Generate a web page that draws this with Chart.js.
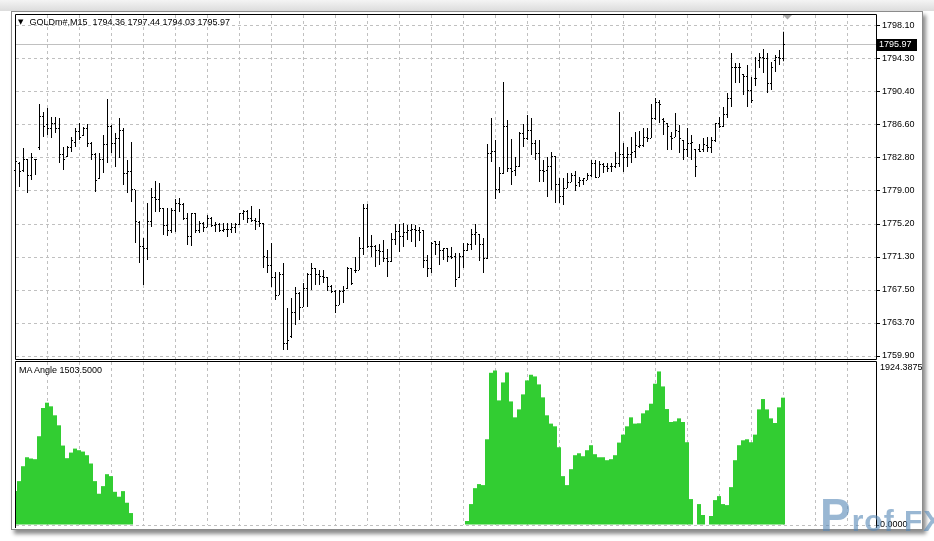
<!DOCTYPE html>
<html>
<head>
<meta charset="utf-8">
<script src="https://cdn.jsdelivr.net/npm/chart.js@4.4.0/dist/chart.umd.min.js"></script>
<style>
  html, body { margin: 0; padding: 0; background: #fff; }
  body { width: 934px; height: 541px; position: relative; overflow: hidden; font-family: "Liberation Sans", Arial, sans-serif; }
  #topband { position: absolute; left: 0; top: 0; width: 934px; height: 11px; background: linear-gradient(#f4f4f4, #dcdcdc); }
  #frame { position: absolute; left: 11px; top: 11px; width: 912px; height: 519px; box-sizing: border-box;
           border: 1px solid #8c8c8c; background: #fff; box-shadow: 3px 4px 4px rgba(0,0,0,0.45); }
  canvas { position: absolute; left: 0; }
  #priceCanvas { top: 0; }
  #maCanvas { top: 360px; }
  .lbl { position: absolute; font-size: 9px; line-height: 9px; color: #000; white-space: pre; }
  #title { left: 18px; top: 18px; }
  #title .tri { font-family: "DejaVu Sans"; font-size: 7px; margin-right: 6px; position: relative; top: -1px; }
  #maTitle { left: 19px; top: 366px; }
  #wm { position: absolute; left: 820px; top: 488px; font: bold 30px "Liberation Sans", sans-serif;
        color: rgba(85,135,182,0.6); letter-spacing: 1px; white-space: pre; }
  #wm .p { font-size: 46px; }
</style>
</head>
<body>
<div id="topband"></div>
<div id="frame"></div>
<canvas id="priceCanvas" width="934" height="361"></canvas>
<canvas id="maCanvas" width="934" height="172"></canvas>
<div id="title" class="lbl"></div>
<div id="maTitle" class="lbl"></div>
<div id="wm"><span class="p">P</span>rof FX</div>
<script>
// GOLDm#, M15 bars, oldest first
const symbol = 'GOLDm#';
const period = 'M15';

const opens = [
  1781.43, 1782.24, 1781.43, 1782.59, 1780.85, 1782.59, 1783.98, 1787.57, 1786.64, 1786.29,
  1786.76, 1786.29, 1783.17, 1782.94, 1783.98, 1784.67, 1785.94, 1785.48, 1786.18, 1784.55,
  1783.17, 1780.50, 1782.59, 1784.33, 1786.52, 1784.45, 1785.13, 1786.06, 1780.97, 1781.20,
  1779.12, 1775.41, 1772.52, 1772.29, 1775.52, 1778.19, 1778.07, 1777.03, 1775.06, 1774.37,
  1776.80, 1777.61, 1777.38, 1775.87, 1773.68, 1776.34, 1774.37, 1775.29, 1774.83, 1775.87,
  1775.06, 1775.18, 1774.37, 1774.49, 1774.60, 1774.72, 1775.18, 1776.34, 1776.57, 1775.76,
  1775.64, 1775.52, 1775.29, 1771.36, 1770.43, 1768.93, 1766.96, 1769.39, 1761.40, 1762.21,
  1764.99, 1767.08, 1765.57, 1767.77, 1769.28, 1770.08, 1769.28, 1769.16, 1769.04, 1767.89,
  1767.42, 1765.80, 1767.42, 1767.66, 1770.08, 1769.85, 1769.85, 1772.40, 1776.92, 1772.52,
  1772.63, 1772.17, 1772.05, 1771.24, 1770.89, 1773.33, 1774.26, 1773.68, 1774.14, 1774.37,
  1774.49, 1774.37, 1774.37, 1771.01, 1770.08, 1773.10, 1772.86, 1772.17, 1772.29, 1771.47,
  1771.47, 1768.93, 1771.47, 1772.17, 1772.75, 1773.91, 1773.91, 1772.86, 1771.24, 1783.29,
  1783.52, 1779.12, 1781.08, 1786.52, 1781.66, 1781.32, 1781.89, 1785.71, 1785.13, 1786.06,
  1784.55, 1783.29, 1781.43, 1781.43, 1781.78, 1782.94, 1779.81, 1778.42, 1779.34, 1780.04,
  1780.85, 1780.04, 1780.27, 1780.27, 1780.85, 1782.13, 1780.62, 1782.01, 1781.89, 1781.78,
  1781.89, 1782.24, 1783.17, 1782.82, 1783.17, 1783.52, 1784.10, 1784.21, 1785.25, 1785.13,
  1787.34, 1789.19, 1787.22, 1786.87, 1785.36, 1785.25, 1785.94, 1784.90, 1783.75, 1784.55,
  1783.86, 1783.75, 1783.75, 1784.21, 1783.98, 1784.79, 1786.76, 1786.41, 1787.80, 1789.65,
  1793.35, 1793.24, 1792.43, 1792.31, 1790.69, 1792.08, 1794.16, 1794.40, 1794.28, 1791.50,
  1794.16, 1794.40, 1794.36
];
const highs = [
  1783.05, 1782.36, 1783.98, 1782.71, 1783.40, 1782.71, 1789.07, 1788.15, 1788.61, 1787.57,
  1787.57, 1787.45, 1784.10, 1784.21, 1785.25, 1786.29, 1786.87, 1786.41, 1786.76, 1784.67,
  1783.40, 1783.40, 1785.48, 1789.65, 1786.64, 1785.71, 1787.45, 1786.29, 1782.59, 1784.67,
  1779.12, 1775.52, 1773.56, 1777.61, 1779.34, 1780.15, 1779.92, 1777.03, 1777.03, 1777.03,
  1778.07, 1778.19, 1777.61, 1776.45, 1776.45, 1776.45, 1775.52, 1775.41, 1776.22, 1775.99,
  1775.41, 1775.29, 1775.29, 1775.29, 1775.29, 1775.29, 1776.45, 1776.80, 1776.80, 1777.26,
  1775.87, 1776.92, 1775.29, 1772.17, 1772.98, 1769.62, 1769.62, 1770.66, 1765.45, 1766.61,
  1767.89, 1767.31, 1768.35, 1769.51, 1770.66, 1770.08, 1769.85, 1769.85, 1769.04, 1768.12,
  1767.54, 1767.54, 1768.00, 1770.20, 1770.08, 1771.36, 1773.68, 1777.50, 1777.50, 1773.91,
  1772.75, 1772.86, 1773.33, 1772.29, 1774.14, 1775.18, 1775.18, 1775.29, 1775.06, 1775.18,
  1775.06, 1774.83, 1774.49, 1771.59, 1773.10, 1773.21, 1773.21, 1772.40, 1772.40, 1772.52,
  1771.82, 1771.82, 1772.98, 1772.98, 1774.60, 1775.18, 1774.02, 1773.56, 1784.45, 1787.45,
  1784.90, 1781.78, 1791.62, 1787.22, 1785.02, 1782.94, 1785.83, 1786.76, 1787.80, 1787.45,
  1784.90, 1784.90, 1782.59, 1782.94, 1783.52, 1783.05, 1780.50, 1780.50, 1781.08, 1781.08,
  1781.32, 1780.62, 1780.50, 1781.08, 1782.59, 1782.59, 1782.48, 1782.24, 1782.24, 1782.24,
  1783.52, 1788.15, 1784.55, 1784.10, 1785.25, 1785.83, 1785.94, 1786.29, 1786.29, 1789.07,
  1789.76, 1789.53, 1787.45, 1786.87, 1785.83, 1788.03, 1786.64, 1784.90, 1786.29, 1785.48,
  1783.86, 1784.45, 1785.13, 1785.25, 1785.25, 1786.87, 1787.57, 1788.72, 1790.34, 1794.97,
  1793.82, 1793.82, 1792.55, 1793.59, 1792.20, 1794.51, 1794.97, 1795.44, 1794.97, 1793.93,
  1794.74, 1795.32, 1797.44
];
const lows = [
  1780.50, 1779.46, 1781.20, 1778.77, 1780.27, 1780.85, 1783.75, 1785.25, 1785.48, 1785.13,
  1785.71, 1782.24, 1781.43, 1782.94, 1783.52, 1784.10, 1784.90, 1785.36, 1784.10, 1782.59,
  1778.89, 1780.39, 1781.08, 1782.24, 1783.40, 1781.78, 1782.82, 1779.69, 1778.77, 1777.73,
  1772.98, 1770.66, 1768.12, 1771.01, 1774.83, 1776.57, 1776.57, 1773.91, 1773.79, 1774.14,
  1774.26, 1776.57, 1775.64, 1772.75, 1772.63, 1774.14, 1774.14, 1774.26, 1774.83, 1774.83,
  1774.26, 1774.26, 1774.26, 1773.68, 1774.14, 1774.14, 1775.06, 1775.64, 1775.29, 1775.41,
  1774.49, 1774.83, 1770.08, 1769.51, 1767.89, 1766.38, 1766.96, 1760.59, 1760.59, 1761.98,
  1763.49, 1764.07, 1765.57, 1765.57, 1767.54, 1768.12, 1768.12, 1768.35, 1767.42, 1767.19,
  1764.88, 1765.80, 1766.03, 1767.66, 1768.12, 1769.51, 1769.85, 1771.59, 1772.40, 1771.36,
  1770.20, 1770.43, 1770.78, 1769.04, 1770.78, 1772.75, 1771.94, 1772.52, 1773.33, 1773.10,
  1772.52, 1773.21, 1770.08, 1769.04, 1769.51, 1771.59, 1770.43, 1771.01, 1770.78, 1771.13,
  1767.89, 1768.93, 1770.08, 1772.05, 1772.17, 1772.75, 1770.89, 1769.51, 1771.13, 1782.36,
  1778.07, 1778.77, 1780.97, 1781.20, 1779.69, 1780.74, 1781.78, 1784.10, 1784.90, 1783.17,
  1782.59, 1780.04, 1780.04, 1778.30, 1779.12, 1777.61, 1777.61, 1777.38, 1779.34, 1780.04,
  1779.00, 1779.46, 1779.69, 1780.27, 1780.62, 1780.50, 1780.62, 1781.08, 1781.20, 1781.20,
  1781.66, 1781.78, 1781.20, 1781.78, 1782.24, 1782.82, 1783.98, 1784.10, 1784.67, 1785.13,
  1787.22, 1786.87, 1785.48, 1783.75, 1783.75, 1785.25, 1783.40, 1782.59, 1782.94, 1782.59,
  1780.62, 1783.52, 1783.52, 1783.52, 1783.40, 1784.67, 1786.29, 1786.41, 1787.45, 1788.72,
  1791.50, 1791.50, 1790.11, 1788.72, 1789.19, 1791.15, 1793.24, 1792.66, 1790.34, 1790.69,
  1792.78, 1793.59, 1794.03
];
const closes = [
  1782.36, 1781.20, 1782.59, 1780.85, 1782.82, 1782.59, 1787.57, 1786.52, 1786.29, 1786.76,
  1786.18, 1783.17, 1782.59, 1783.98, 1784.90, 1785.94, 1785.25, 1786.18, 1784.55, 1783.17,
  1780.27, 1782.59, 1784.33, 1786.52, 1784.45, 1785.13, 1786.06, 1780.97, 1781.20, 1779.12,
  1775.52, 1772.52, 1772.29, 1775.52, 1778.19, 1778.07, 1777.03, 1775.06, 1774.37, 1776.80,
  1777.50, 1777.38, 1775.87, 1773.68, 1776.34, 1774.37, 1775.29, 1774.83, 1775.87, 1775.06,
  1775.18, 1774.37, 1774.49, 1774.60, 1774.72, 1775.18, 1776.34, 1776.57, 1775.76, 1775.64,
  1775.52, 1775.29, 1771.47, 1770.43, 1768.93, 1766.96, 1769.39, 1761.40, 1761.75, 1764.99,
  1767.08, 1765.57, 1767.77, 1769.28, 1770.08, 1769.28, 1769.16, 1769.04, 1767.89, 1767.42,
  1765.80, 1767.42, 1767.54, 1770.08, 1768.35, 1769.85, 1772.40, 1776.92, 1772.52, 1772.63,
  1772.17, 1772.05, 1771.24, 1770.89, 1773.33, 1774.26, 1773.68, 1774.14, 1774.37, 1774.49,
  1774.37, 1774.25, 1771.01, 1770.08, 1772.98, 1772.86, 1772.17, 1772.29, 1771.47, 1771.36,
  1768.81, 1771.47, 1772.17, 1772.75, 1773.91, 1774.14, 1772.86, 1771.24, 1783.29, 1783.52,
  1779.12, 1781.08, 1786.52, 1781.66, 1781.20, 1781.89, 1785.71, 1785.02, 1786.06, 1784.55,
  1783.29, 1781.43, 1781.20, 1781.78, 1782.94, 1779.81, 1778.42, 1779.34, 1780.04, 1780.85,
  1779.69, 1780.27, 1780.39, 1780.85, 1782.13, 1780.62, 1782.01, 1781.89, 1781.66, 1781.89,
  1782.24, 1783.17, 1782.82, 1783.17, 1783.40, 1784.21, 1784.21, 1785.25, 1785.13, 1787.34,
  1789.19, 1788.96, 1787.10, 1786.52, 1785.02, 1786.06, 1785.02, 1783.75, 1784.45, 1784.67,
  1781.89, 1783.63, 1784.33, 1783.98, 1784.79, 1786.76, 1786.41, 1787.80, 1789.65, 1793.35,
  1793.24, 1793.24, 1792.31, 1790.69, 1789.53, 1792.08, 1794.40, 1794.28, 1791.50, 1793.24,
  1794.40, 1794.36, 1795.97
];

// MA Angle indicator, one value per bar
const maAngle = [
  400, 518, 694, 800, 785, 777, 1048, 1381, 1444, 1401,
  1295, 1177, 938, 789, 855, 902, 883, 867, 824, 726,
  518, 369, 459, 600, 577, 392, 334, 400, 263, 141,
  0, 0, 0, 0, 0, 0, 0, 0, 0, 0,
  0, 0, 0, 0, 0, 0, 0, 0, 0, 0,
  0, 0, 0, 0, 0, 0, 0, 0, 0, 0,
  0, 0, 0, 0, 0, 0, 0, 0, 0, 0,
  0, 0, 0, 0, 0, 0, 0, 0, 0, 0,
  0, 0, 0, 0, 0, 0, 0, 0, 0, 0,
  0, 0, 0, 0, 0, 0, 0, 0, 0, 0,
  0, 0, 0, 0, 0, 0, 0, 0, 0, 0,
  0, 0, 0, 47, 247, 435, 483, 471, 1012, 1797,
  1824, 1471, 1683, 1801, 1459, 1271, 1365, 1542, 1707, 1774,
  1754, 1660, 1507, 1295, 1197, 1165, 918, 577, 471, 659,
  824, 847, 812, 883, 942, 836, 800, 800, 765, 777,
  824, 973, 1067, 1165, 1271, 1197, 1201, 1318, 1354, 1432,
  1668, 1813, 1636, 1369, 1216, 1224, 1259, 1216, 977, 306,
  0, 247, 118, 0, 106, 294, 341, 247, 235, 447,
  765, 942, 1000, 1012, 977, 1067, 1365, 1487, 1365, 1259,
  1204, 1389, 1503.5
];

// price scale labels, top to bottom
const priceTickLabels = ['1798.10', '1794.30', '1790.40', '1786.60', '1782.80', '1779.00',
                         '1775.20', '1771.30', '1767.50', '1763.70', '1759.90'];
const priceGridTop = 1798.10;
const priceGridStep = 3.82;
const priceMin = 1759.553;
const priceMax = 1799.373;
const bidPrice = 1795.97;

const maTickLabels = ['0.0000', '1924.3875'];
const maMax = 1924.3875;

const barIndex = opens.map((_, i) => i);
const priceLevels = priceTickLabels.map((_, k) => priceGridTop - k * priceGridStep);
const xGrid = [];
for (let k = 8; k <= 208; k += 8) xGrid.push(k);

Chart.defaults.font.family = '"Liberation Sans", Arial, sans-serif';
Chart.defaults.font.size = 9;
Chart.defaults.color = '#000';

const last = opens.length - 1;
document.getElementById('title').innerHTML =
  '<span class="tri">\u25BC</span>' + symbol + ',' + period + '  ' +
  [opens[last], highs[last], lows[last], closes[last]].map(v => v.toFixed(2)).join(' ');
document.getElementById('maTitle').textContent = 'MA Angle ' + maAngle[last].toFixed(4);

// black frame round the plot area
function framePlugin(closed, extraBottom) {
  return {
    id: 'frame',
    afterDraw(chart) {
      const { ctx, chartArea: a } = chart;
      const bottom = closed ? a.bottom + 0.5 : a.bottom + extraBottom;
      ctx.save();
      ctx.strokeStyle = '#000';
      ctx.lineWidth = 1;
      ctx.beginPath();
      ctx.moveTo(a.left - 0.5, bottom);
      ctx.lineTo(a.left - 0.5, a.top - 0.5);
      ctx.lineTo(a.right + 0.5, a.top - 0.5);
      ctx.lineTo(a.right + 0.5, bottom);
      if (closed) ctx.lineTo(a.left - 0.5, bottom);
      ctx.stroke();
      ctx.restore();
    }
  };
}

// open tick on the left, close tick on the right
const ohlcTicks = {
  id: 'ohlcTicks',
  afterDatasetsDraw(chart) {
    const { ctx, scales: { x, y } } = chart;
    ctx.save();
    ctx.fillStyle = '#000';
    barIndex.forEach(i => {
      const col = Math.floor(x.getPixelForValue(i));
      ctx.fillRect(col - 1, Math.floor(y.getPixelForValue(opens[i])), 1, 1);
      ctx.fillRect(col + 1, Math.floor(y.getPixelForValue(closes[i])), 1, 1);
    });
    ctx.restore();
  }
};

// bid line, price box and the shift marker
const bidLine = {
  id: 'bidLine',
  beforeDatasetsDraw(chart) {
    const { ctx, chartArea: a, scales: { y } } = chart;
    const py = Math.floor(y.getPixelForValue(bidPrice)) + 0.5;
    ctx.save();
    ctx.strokeStyle = '#c0c0c0';
    ctx.lineWidth = 1;
    ctx.beginPath();
    ctx.moveTo(a.left, py);
    ctx.lineTo(a.right, py);
    ctx.stroke();
    ctx.restore();
  },
  afterDraw(chart) {
    const { ctx, chartArea: a, scales: { x, y } } = chart;
    const py = Math.floor(y.getPixelForValue(bidPrice));
    ctx.save();
    ctx.fillStyle = '#000';
    ctx.fillRect(a.right + 1, py - 5, 40, 12);
    ctx.fillStyle = '#fff';
    ctx.font = '9px "Liberation Sans", Arial, sans-serif';
    ctx.textBaseline = 'middle';
    ctx.fillText(bidPrice.toFixed(2), a.right + 3, py + 1);
    const sx = x.getPixelForValue(opens.length);
    ctx.fillStyle = '#a8a8a8';
    ctx.beginPath();
    ctx.moveTo(sx - 4.5, a.top);
    ctx.lineTo(sx + 4.5, a.top);
    ctx.lineTo(sx, a.top + 4.5);
    ctx.closePath();
    ctx.fill();
    ctx.restore();
  }
};

const xGridScale = (min) => ({
  type: 'linear',
  min: min,
  max: min + 215,
  offset: false,
  afterBuildTicks: s => { s.ticks = xGrid.map(v => ({ value: v })); },
  ticks: { display: false },
  grid: { color: '#c0c0c0', drawTicks: false, offset: false },
  border: { display: false, dash: [3, 3] }
});

new Chart(document.getElementById('priceCanvas'), {
  type: 'bar',
  data: {
    datasets: [{
      data: barIndex.map(i => ({ x: i, y: [lows[i], highs[i]] })),
      backgroundColor: '#000',
      borderWidth: 0,
      inflateAmount: 0,
      barThickness: 1
    }]
  },
  options: {
    responsive: false,
    animation: false,
    events: [],
    layout: { padding: { left: 16, top: 15, right: 8, bottom: 2 } },
    plugins: { legend: { display: false }, tooltip: { enabled: false } },
    scales: {
      x: xGridScale(0.125),
      y: {
        position: 'right',
        min: priceMin,
        max: priceMax,
        afterBuildTicks: s => { s.ticks = priceLevels.map(v => ({ value: v })); },
        afterFit: s => { s.width = 50; s.paddingTop = 0; s.paddingBottom = 0; },
        ticks: { autoSkip: false, padding: 2, callback: (v, i) => priceTickLabels[i] },
        grid: { color: '#c0c0c0', tickColor: '#000', tickLength: 4 },
        border: { display: false, dash: [3, 3] }
      }
    }
  },
  plugins: [framePlugin(true, 0), bidLine, ohlcTicks]
});

new Chart(document.getElementById('maCanvas'), {
  type: 'bar',
  data: {
    datasets: [{
      data: barIndex.map(i => ({ x: i, y: maAngle[i] })),
      backgroundColor: '#32cd32',
      borderWidth: 0,
      inflateAmount: 0,
      barThickness: 4
    }]
  },
  options: {
    responsive: false,
    animation: false,
    events: [],
    layout: { padding: { left: 16, top: 2, right: 8, bottom: 7 } },
    plugins: { legend: { display: false }, tooltip: { enabled: false } },
    scales: {
      x: xGridScale(0.25),
      y: {
        position: 'right',
        min: 0,
        max: maMax,
        afterBuildTicks: s => { s.ticks = [{ value: 0 }, { value: maMax }]; },
        afterFit: s => { s.width = 50; s.paddingTop = 0; s.paddingBottom = 0; },
        ticks: { autoSkip: false, padding: 1, callback: (v, i) => i === 0 ? maTickLabels[0] : ['', maTickLabels[1]] },
        grid: {
          color: c => (c.tick && c.tick.value === 0) ? '#c0c0c0' : 'rgba(0,0,0,0)',
          tickColor: c => (c.tick && c.tick.value === 0) ? '#000' : 'rgba(0,0,0,0)',
          tickLength: 3
        },
        border: { display: false, dash: [3, 3] }
      }
    }
  },
  plugins: [framePlugin(false, 3)]
});
</script>
</body>
</html>
